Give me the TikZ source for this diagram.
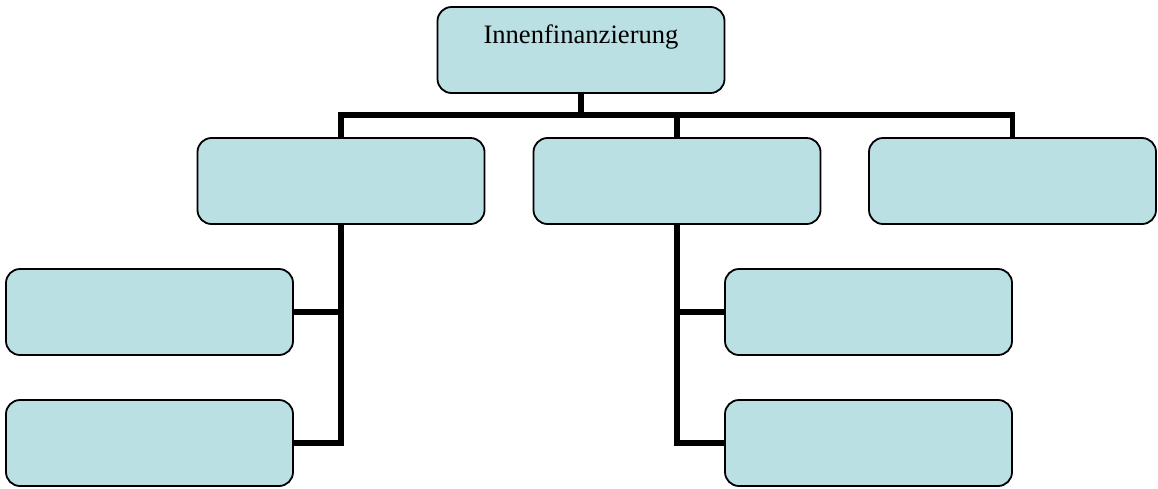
\documentclass[tikz,border=0pt]{standalone}
\usepackage{fontspec}
\setmainfont{Liberation Serif}
\definecolor{boxfill}{RGB}{187,224,227}
\begin{document}
\begin{tikzpicture}[x=1pt,y=-1pt,
  orgbox/.style={draw=black, line width=1.8pt, fill=boxfill, rounded corners=14pt,
    rectangle, minimum width=287pt, minimum height=86pt, inner sep=0pt, outer sep=0pt},
  link/.style={draw=black, line width=5.5pt}]
\useasboundingbox (0,0) rectangle (1158,488);
% boxes
\node[orgbox] (top) at (581,50) {};
\node[orgbox] (b1) at (341,181) {};
\node[orgbox] (b2) at (677,181) {};
\node[orgbox] (b3) at (1012.5,181) {};
\node[orgbox] (l1) at (149.5,312) {};
\node[orgbox] (l2) at (149.5,443) {};
\node[orgbox] (r1) at (868.5,312) {};
\node[orgbox] (r2) at (868.5,443) {};
\node[anchor=base, font=\fontsize{26.6}{30}\selectfont, inner sep=0pt] (title) at (581,43) {Innenfinanzierung};
% connectors: top box to the middle row, then the two side buses
\draw[link] (top.south) -- ++(0,22) coordinate (bus) -| (b1.north);
\draw[link] (bus) -| (b2.north);
\draw[link] (bus) -| (b3.north);
\draw[link] (b1.south) |- (l1.east);
\draw[link] (b1.south) |- (l2.east);
\draw[link] (b2.south) |- (r1.west);
\draw[link] (b2.south) |- (r2.west);
\end{tikzpicture}
\end{document}
